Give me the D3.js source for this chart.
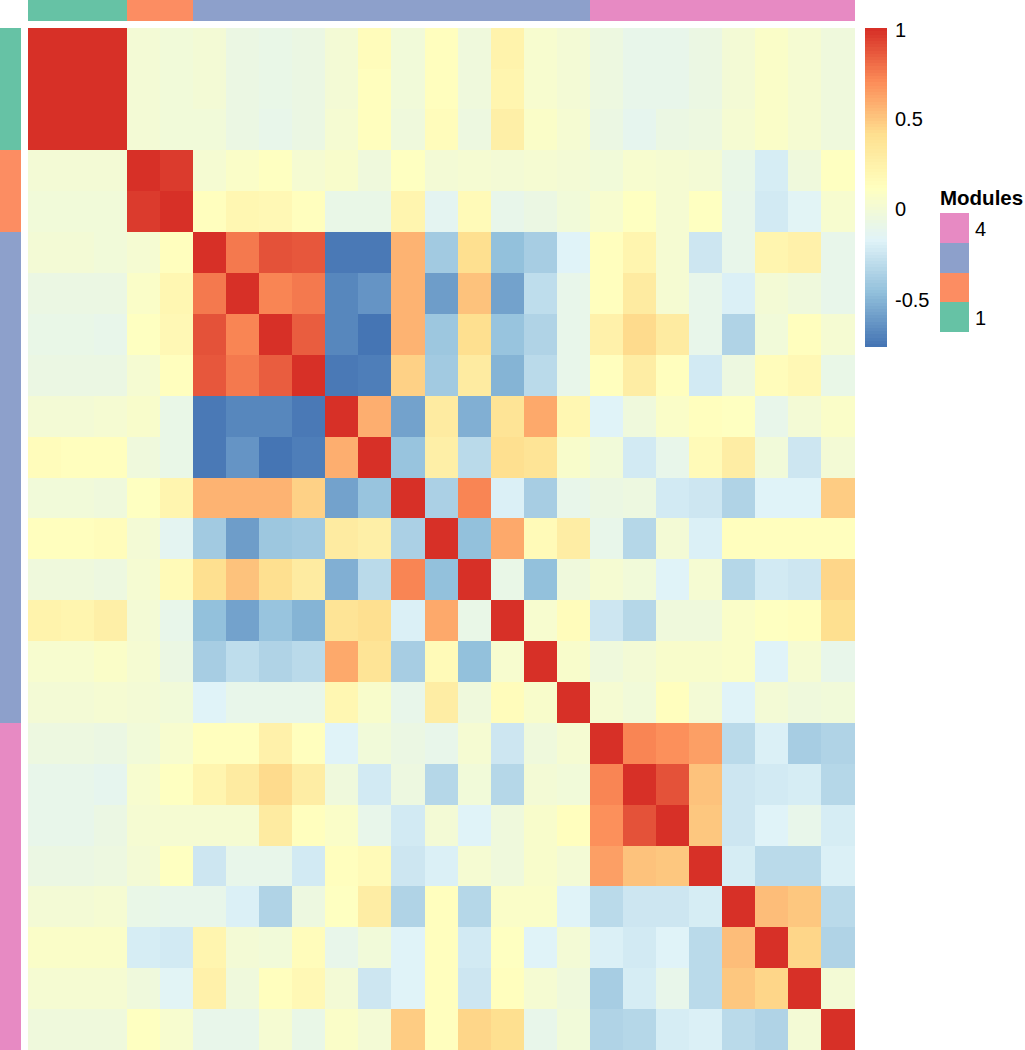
<!DOCTYPE html>
<html>
<head>
<meta charset="utf-8">
<script src="https://cdn.jsdelivr.net/npm/d3@7"></script>
<style>
  body { margin: 0; background: #fff; }
  svg { display: block; font-family: "Liberation Sans", Arial, sans-serif; }
</style>
</head>
<body>
<script>
// module of each row / column of the correlation matrix
var modules = [1,1,1, 2,2, 3,3,3,3,3,3,3,3,3,3,3,3, 4,4,4,4,4,4,4,4];

// legend entries (top to bottom), only first and last are labelled
var moduleLevels = [4, 3, 2, 1];
var moduleLabels = ["4", "", "", "1"];
var moduleColors = ["#66C2A5", "#FC8D62", "#8DA0CB", "#E78AC3"];

// colour bar ticks
var legendTicks = [-0.5, 0, 0.5, 1];

// rev(brewer.pal(7, "RdYlBu"))
var paletteStops = ["#4575B4", "#91BFDB", "#E0F3F8", "#FFFFBF", "#FEE090", "#FC8D59", "#D73027"];

// upper triangle of the correlation matrix, row i holds columns i..24
var upperTriangle = [
  [1, 0.99, 0.99, 0.0, -0.01, 0.0, -0.07, -0.08, -0.06, 0.0, 0.14, -0.02, 0.12, -0.04, 0.23, 0.04, 0.01, -0.05, -0.11, -0.1, -0.07, 0.01, 0.07, 0.02, -0.04],
  [1, 0.99, 0.0, -0.01, 0.0, -0.07, -0.09, -0.06, 0.0, 0.13, -0.02, 0.12, -0.04, 0.22, 0.04, 0.01, -0.05, -0.11, -0.1, -0.06, 0.01, 0.07, 0.02, -0.04],
  [1, 0.0, -0.01, -0.01, -0.06, -0.1, -0.07, 0.02, 0.12, -0.03, 0.15, -0.05, 0.27, 0.07, 0.02, -0.06, -0.12, -0.06, -0.05, 0.02, 0.08, 0.02, -0.03],
  [1, 0.96, 0.02, 0.08, 0.1, 0.02, 0.05, -0.03, 0.11, 0.0, 0.02, 0.01, 0.02, 0.01, -0.02, 0.03, 0.02, 0.01, -0.08, -0.21, -0.03, 0.1],
  [1, 0.12, 0.2, 0.18, 0.12, -0.08, -0.08, 0.21, -0.13, 0.17, -0.11, -0.06, -0.02, 0.04, 0.1, 0.02, 0.1, -0.11, -0.22, -0.16, 0.03],
  [1, 0.76, 0.89, 0.87, -0.74, -0.74, 0.565, -0.40, 0.41, -0.46, -0.38, -0.18, 0.12, 0.21, 0.02, -0.25, -0.11, 0.22, 0.25, -0.1],
  [1, 0.73, 0.76, -0.68, -0.64, 0.565, -0.605, 0.51, -0.575, -0.3, -0.11, 0.12, 0.31, 0.02, -0.11, -0.19, 0.01, -0.03, -0.11],
  [1, 0.85, -0.68, -0.765, 0.565, -0.42, 0.41, -0.44, -0.35, -0.11, 0.25, 0.42, 0.31, -0.11, -0.35, -0.02, 0.12, 0.02],
  [1, -0.73, -0.72, 0.46, -0.40, 0.31, -0.51, -0.32, -0.11, 0.12, 0.29, 0.12, -0.22, -0.05, 0.14, 0.18, -0.08],
  [1, 0.58, -0.58, 0.31, -0.53, 0.37, 0.61, 0.2, -0.17, -0.04, 0.08, 0.12, 0.1, -0.11, 0.01, 0.08],
  [1, -0.44, 0.27, -0.32, 0.4, 0.38, 0.06, -0.02, -0.22, -0.11, 0.16, 0.28, -0.02, -0.25, 0.01],
  [1, -0.37, 0.73, -0.19, -0.38, -0.11, -0.06, -0.05, -0.22, -0.25, -0.35, -0.17, -0.17, 0.48],
  [1, -0.46, 0.6, 0.16, 0.28, -0.11, -0.34, 0.01, -0.19, 0.13, 0.12, 0.13, 0.12],
  [1, -0.08, -0.46, -0.04, 0.02, -0.02, -0.17, 0.02, -0.33, -0.22, -0.25, 0.44],
  [1, 0.03, 0.15, -0.25, -0.34, -0.03, -0.04, 0.08, 0.1, 0.13, 0.4],
  [1, 0.05, -0.03, 0.01, 0.05, 0.05, 0.08, -0.17, 0.02, -0.11],
  [1, 0.02, -0.02, 0.12, 0.0, -0.17, 0.01, -0.03, -0.02],
  [1, 0.72, 0.69, 0.63, -0.31, -0.19, -0.38, -0.35],
  [1, 0.89, 0.52, -0.25, -0.23, -0.21, -0.34],
  [1, 0.49, -0.25, -0.17, -0.11, -0.21],
  [1, -0.21, -0.32, -0.32, -0.19],
  [1, 0.54, 0.49, -0.31],
  [1, 0.44, -0.35],
  [1, 0.01],
  [1]
];

var width = 1025, height = 1050;
var n = modules.length;

// full symmetric matrix from the triangle
var corr = d3.range(n).map(function (i) {
  return d3.range(n).map(function (j) {
    return i <= j ? upperTriangle[i][j - i] : upperTriangle[j][i - j];
  });
});
var cells = [];
corr.forEach(function (row, i) {
  row.forEach(function (v, j) { cells.push({ i: i, j: j, v: v }); });
});

// pheatmap style colours: 100 colours, breaks from min to max
var ramp = d3.piecewise(d3.interpolateRgb, paletteStops);
var palette = d3.range(100).map(function (k) { return ramp(k / 99); });
var extent = d3.extent(cells, function (d) { return d.v; });
var color = d3.scaleQuantize().domain(extent).range(palette);

var x = d3.scaleBand().domain(d3.range(n)).range([27.7, 854.5]);
var y = d3.scaleBand().domain(d3.range(n)).range([27.7, 1050]);
var modColor = d3.scaleOrdinal().domain([1, 2, 3, 4]).range(moduleColors);

var svg = d3.select("body").append("svg")
  .attr("width", width)
  .attr("height", height);

// heatmap cells
svg.append("g")
  .attr("shape-rendering", "crispEdges")
  .selectAll("rect")
  .data(cells)
  .enter()
  .append("rect")
  .attr("x", function (d) { return x(d.j); })
  .attr("y", function (d) { return y(d.i); })
  .attr("width", x.bandwidth())
  .attr("height", y.bandwidth())
  .attr("fill", function (d) { return color(d.v); });

// top annotation bar
svg.append("g")
  .attr("shape-rendering", "crispEdges")
  .selectAll("rect")
  .data(modules)
  .enter()
  .append("rect")
  .attr("x", function (d, j) { return x(j); })
  .attr("y", 0)
  .attr("width", x.bandwidth())
  .attr("height", 20.7)
  .attr("fill", function (d) { return modColor(d); });

// left annotation bar
svg.append("g")
  .attr("shape-rendering", "crispEdges")
  .selectAll("rect")
  .data(modules)
  .enter()
  .append("rect")
  .attr("x", 0)
  .attr("y", function (d, i) { return y(i); })
  .attr("width", 21)
  .attr("height", y.bandwidth())
  .attr("fill", function (d) { return modColor(d); });

// colour bar legend
var ly = d3.scaleLinear().domain([extent[1], extent[0]]).range([27.7, 346.7]);
var step = (extent[1] - extent[0]) / palette.length;
svg.append("g")
  .attr("shape-rendering", "crispEdges")
  .selectAll("rect")
  .data(palette)
  .enter()
  .append("rect")
  .attr("x", 865)
  .attr("y", function (d, k) { return ly(extent[0] + (k + 1) * step); })
  .attr("width", 21.7)
  .attr("height", function (d, k) { return ly(extent[0] + k * step) - ly(extent[0] + (k + 1) * step) + 0.5; })
  .attr("fill", function (d) { return d; });

svg.append("g")
  .selectAll("text")
  .data(legendTicks)
  .enter()
  .append("text")
  .attr("x", 895)
  .attr("y", function (d) { return Math.max(ly(d), 29) + 1; })
  .attr("dominant-baseline", "central")
  .style("font-size", "20px")
  .text(function (d) { return d; });

// modules legend
svg.append("text")
  .attr("x", 940)
  .attr("y", 205)
  .style("font-size", "20.5px")
  .style("font-weight", "bold")
  .text("Modules");

var boxH = 29.6;
svg.append("g")
  .attr("shape-rendering", "crispEdges")
  .selectAll("rect")
  .data(moduleLevels)
  .enter()
  .append("rect")
  .attr("x", 940)
  .attr("y", function (d, k) { return 213.3 + k * boxH; })
  .attr("width", 29)
  .attr("height", boxH)
  .attr("fill", function (d) { return modColor(d); });

svg.append("g")
  .selectAll("text")
  .data(moduleLabels)
  .enter()
  .append("text")
  .attr("x", 975)
  .attr("y", function (d, k) { return 213.3 + (k + 0.5) * boxH + 1; })
  .attr("dominant-baseline", "central")
  .style("font-size", "20px")
  .text(function (d) { return d; });
</script>
</body>
</html>
